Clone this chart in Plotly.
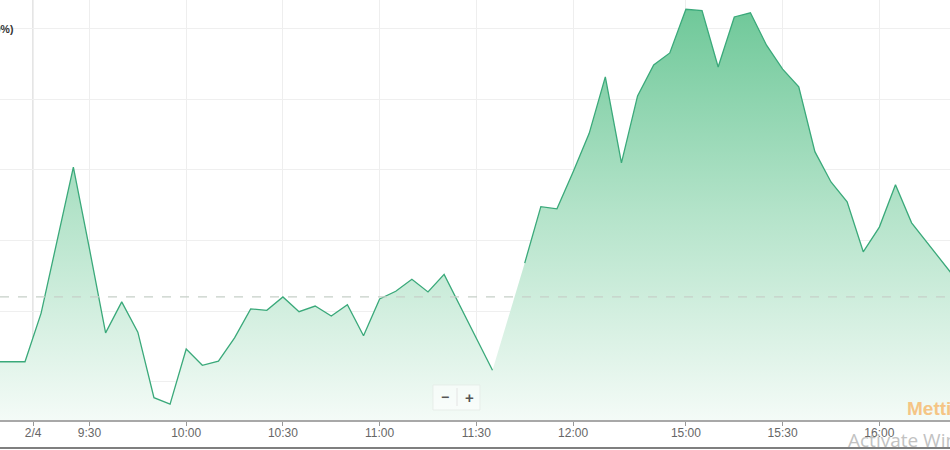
import plotly.graph_objects as go

# ---- data (index positions: one point per 5-minute bar) ----
idx = list(range(-2, 59))
values = [
    100.28,
    100.28, 100.28, 100.97, 102.01, 103.04, 101.88, 100.69, 101.13, 100.70, 99.77,
    99.68, 100.46, 100.23, 100.29, 100.62, 101.03, 101.01, 101.20, 100.99, 101.07,
    100.93, 101.09, 100.65, 101.17, 101.28, 101.45, 101.27, 101.52, 101.07, 100.62,
    100.16, None, 101.68, 102.48, 102.45, 102.97, 103.52, 104.32, 103.10, 104.05,
    104.49, 104.66, 105.28, 105.26, 104.46, 105.17, 105.23, 104.77, 104.43, 104.18,
    103.26, 102.83, 102.55, 101.84, 102.19, 102.79, 102.25, 101.96, 101.67, 101.38,
]
prev_close = 101.2
tick_pos = [0.5, 4, 10, 16, 22, 28, 34, 41, 47, 53]
tick_labels = ["2/4", "9:30", "10:00", "10:30", "11:00", "11:30", "12:00", "15:00", "15:30", "16:00"]

W, H = 950, 450
plot_bottom_px = 420
y_lo, y_hi = 99.454, 105.411

fx = [x for x, v in zip(idx, values) if v is not None]
fy = [v for v in values if v is not None]

fig = go.Figure()
fig.add_trace(go.Scatter(
    x=fx, y=fy, mode="lines", line=dict(width=0, color="rgba(0,0,0,0)"),
    fill="tozeroy",
    fillgradient=dict(type="vertical", start=y_lo, stop=y_hi,
                      colorscale=[[0, "#f4fbf7"], [0.5, "#b3e3c9"], [1, "#6cc797"]]),
    hoverinfo="skip", showlegend=False,
))
fig.add_trace(go.Scatter(
    x=idx, y=values, mode="lines", connectgaps=False,
    line=dict(color="#3aa97a", width=1.3), showlegend=False,
))

shapes = [
    dict(type="line", xref="paper", yref="y", x0=0, x1=1, y0=prev_close, y1=prev_close,
         line=dict(color="#c6d0c8", width=1.2, dash="dash"), layer="above"),
    dict(type="line", xref="x", yref="paper", x0=0.5, x1=0.5, y0=0, y1=1,
         line=dict(color="#dcdcdc", width=1.6), layer="below"),
    dict(type="rect", xref="paper", yref="paper",
         x0=433 / W, x1=480 / W, y0=(plot_bottom_px - 410) / plot_bottom_px,
         y1=(plot_bottom_px - 385) / plot_bottom_px,
         fillcolor="rgba(255,255,255,0.55)", line=dict(color="rgba(230,236,232,0.9)", width=1)),
    dict(type="line", xref="paper", yref="paper", x0=457 / W, x1=457 / W,
         y0=(plot_bottom_px - 406) / plot_bottom_px, y1=(plot_bottom_px - 388) / plot_bottom_px,
         line=dict(color="#e4e4e4", width=1)),
    dict(type="line", xref="paper", yref="paper", x0=0, x1=1,
         y0=(plot_bottom_px - 448) / plot_bottom_px, y1=(plot_bottom_px - 448) / plot_bottom_px,
         line=dict(color="#555555", width=1.5)),
]

def py(px):
    return (plot_bottom_px - px) / plot_bottom_px

annotations = [
    dict(xref="paper", yref="paper", x=15 / W, y=py(29), xanchor="right", yanchor="middle",
         text="<b>+4.09%)</b>", showarrow=False, font=dict(size=10.5, color="#333333", family="Liberation Sans")),
    dict(xref="paper", yref="paper", x=445 / W, y=py(397), xanchor="center", yanchor="middle",
         text="<b>−</b>", showarrow=False, font=dict(size=14, color="#555555", family="Liberation Sans")),
    dict(xref="paper", yref="paper", x=469 / W, y=py(397), xanchor="center", yanchor="middle",
         text="<b>+</b>", showarrow=False, font=dict(size=15, color="#555555", family="Liberation Sans")),
    dict(xref="paper", yref="paper", x=905 / W, y=py(408), xanchor="left", yanchor="middle",
         text="<b>Mettis</b>", showarrow=False, font=dict(size=19, color="#f5c585", family="Liberation Sans")),
    dict(xref="paper", yref="paper", x=846 / W, y=py(440), xanchor="left", yanchor="middle",
         text="Activate Windows", showarrow=False, font=dict(size=19, color="#c2c2c2", family="Open Sans")),
]

fig.update_layout(
    width=W, height=H,
    margin=dict(l=0, r=0, t=0, b=H - plot_bottom_px),
    paper_bgcolor="white", plot_bgcolor="white",
    shapes=shapes, annotations=annotations,
    xaxis=dict(range=[-25 / 16.12, 925 / 16.12], tickvals=tick_pos, ticktext=tick_labels,
               showgrid=True, gridcolor="#eeeeee", gridwidth=1, zeroline=False,
               showline=True, linecolor="#a8a8a8", linewidth=1.5,
               ticks="outside", ticklen=4, tickcolor="#999999", ticklabelstandoff=-3,
               tickfont=dict(size=12, color="#666666", family="Liberation Sans")),
    yaxis=dict(range=[y_lo, y_hi], tick0=100, dtick=1, showticklabels=False,
               showgrid=True, gridcolor="#efefef", gridwidth=1, zeroline=False, ticks=""),
    hovermode=False,
)

fig.write_html("out.html", config={"displayModeBar": False},
               post_script="document.body.style.margin='0';document.body.style.overflow='hidden';")
